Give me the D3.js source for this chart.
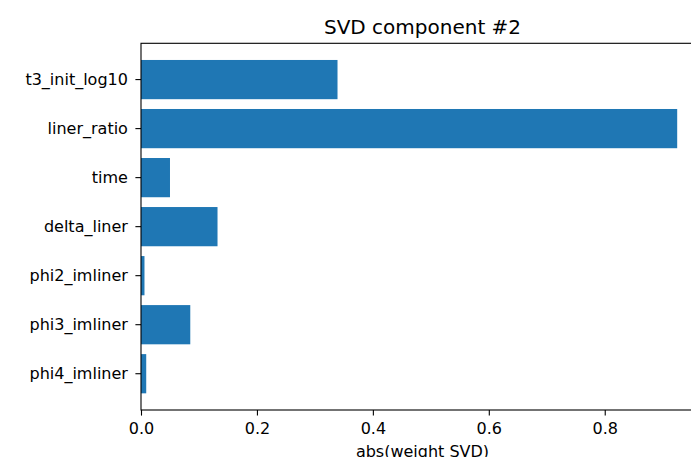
<!DOCTYPE html>
<html>
<head>
<meta charset="utf-8">
<script src="https://cdn.jsdelivr.net/npm/d3@7"></script>
<style>
  html, body { margin: 0; padding: 0; background: #fff; overflow: hidden; }
  svg { display: block; }
  text { font-family: "DejaVu Sans", sans-serif; fill: #000; }
</style>
</head>
<body>
<svg id="chart" width="691" height="457"></svg>
<script>
const categories = ["t3_init_log10", "liner_ratio", "time", "delta_liner", "phi2_imliner", "phi3_imliner", "phi4_imliner"];
const values = [0.339, 0.925, 0.050, 0.132, 0.006, 0.085, 0.009];
const xTicks = [0.0, 0.2, 0.4, 0.6, 0.8];
const titleText = "SVD component #2";
const xLabelText = "abs(weight SVD)";

const plotLeft = 141, plotTop = 43.3, plotBottom = 410;
const xMax = d3.max(values) * 1.05;
const plotRight = 704; // plot area extends past the visible window

const svg = d3.select("#chart");

const x = d3.scaleLinear().domain([0, xMax]).range([plotLeft, plotRight]);
const y = d3.scaleBand().domain(categories).range([plotTop, plotBottom])
  .paddingInner(0.2).paddingOuter(0.34);

// bars
svg.append("g").selectAll("rect").data(categories).join("rect")
  .attr("x", x(0))
  .attr("y", d => y(d))
  .attr("width", (d, i) => x(values[i]) - x(0))
  .attr("height", y.bandwidth())
  .attr("fill", "#1f77b4");

// spines
svg.append("rect").attr("x", plotLeft).attr("y", plotTop)
  .attr("width", plotRight - plotLeft).attr("height", plotBottom - plotTop)
  .attr("fill", "none").attr("stroke", "#000").attr("stroke-width", 1.1);

// x axis
const xAxis = d3.axisBottom(x).tickValues(xTicks).tickFormat(d3.format(".1f"))
  .tickSize(5.6).tickPadding(5.6);
const gx = svg.append("g").attr("transform", `translate(0,${plotBottom})`).call(xAxis);
gx.select(".domain").remove();
gx.selectAll(".tick line").attr("stroke", "#000").attr("stroke-width", 1.1);
gx.selectAll(".tick text").attr("font-size", 16).attr("font-family", "DejaVu Sans")
  .attr("fill", "#000").attr("dy", null).attr("y", 24);

// y axis
const yAxis = d3.axisLeft(y).tickSize(5.6).tickPadding(7.5);
const gy = svg.append("g").attr("transform", `translate(${plotLeft},0)`).call(yAxis);
gy.select(".domain").remove();
gy.selectAll(".tick line").attr("stroke", "#000").attr("stroke-width", 1.1);
gy.selectAll(".tick text").attr("font-size", 16).attr("font-family", "DejaVu Sans")
  .attr("fill", "#000").attr("dy", "0.36em");

// title
svg.append("text").attr("x", (plotLeft + plotRight) / 2).attr("y", 34)
  .attr("text-anchor", "middle").attr("font-size", 20).text(titleText);

// x label
svg.append("text").attr("x", (plotLeft + plotRight) / 2).attr("y", 457)
  .attr("text-anchor", "middle").attr("font-size", 16).text(xLabelText);
</script>
</body>
</html>
